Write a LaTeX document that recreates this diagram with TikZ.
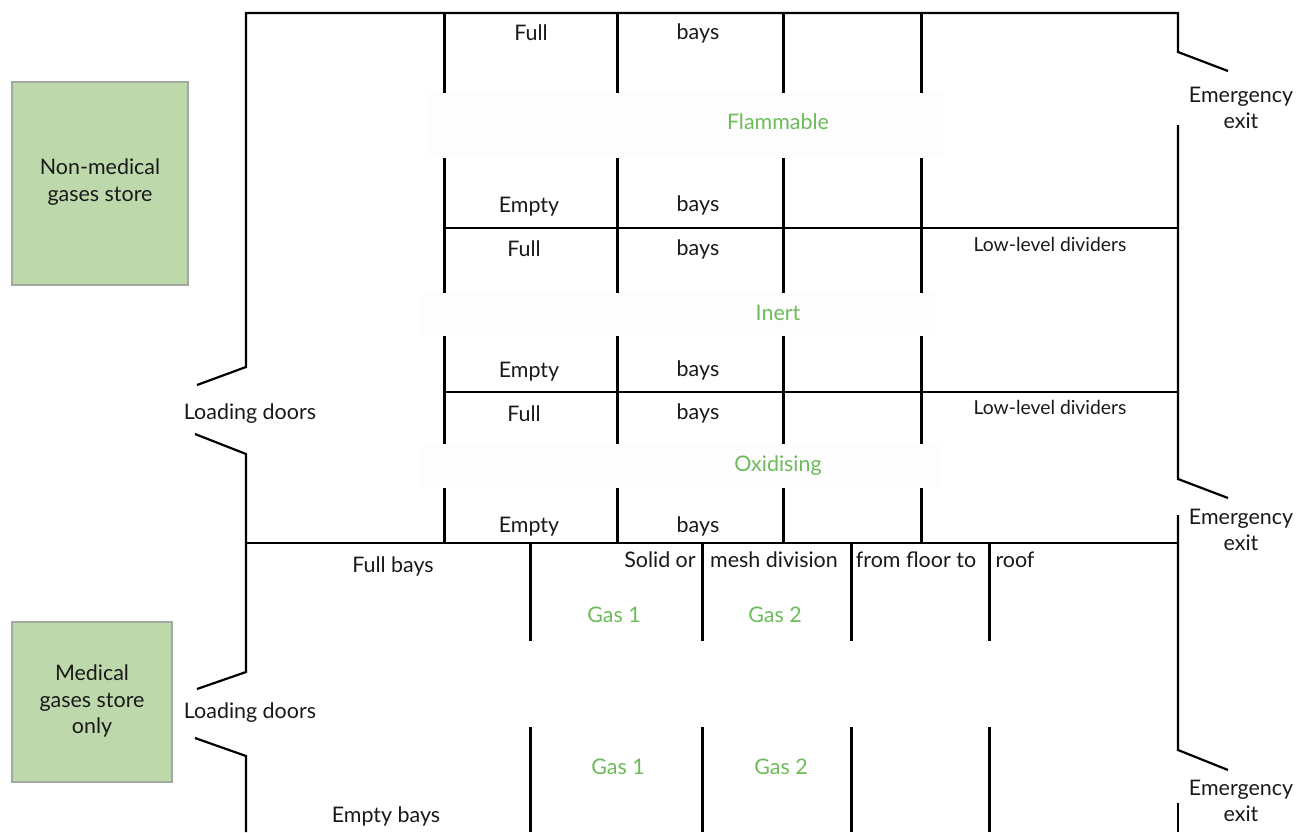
\documentclass[tikz,border=0pt]{standalone}
\usepackage{fontspec}
\setmainfont{Lato}
\definecolor{storegreen}{HTML}{BDD9AB}
\definecolor{storeedge}{HTML}{A3A8A0}
\definecolor{gaslabel}{HTML}{6DBB5A}
\definecolor{bandgrey}{HTML}{FDFDFD}
\tikzset{
    wall/.style={line width=1.25pt, black},
    divider/.style={line width=1.7pt, black},
    lowline/.style={line width=1.1pt, black},
    store/.style={draw=storeedge, line width=1.2pt, fill=storegreen},
    label/.style={font=\fontsize{12.2}{15}\selectfont, align=center, text=black!90},
    small/.style={font=\fontsize{11}{13}\selectfont, align=center, text=black!90},
    gas/.style={font=\fontsize{12.2}{15}\selectfont, text=gaslabel}
}
\begin{document}
\begin{tikzpicture}[x=0.02cm, y=-0.02cm]
    \useasboundingbox (0,0) rectangle (1308,832);
    % stores
    \draw[store] (12,82) rectangle (188,285);
    \draw[store] (12,622) rectangle (172,782);
    \node[label] (nonmedical) at (100,182) {Non-medical\\gases store};
    \node[label] (medical) at (92,701) {Medical\\gases store\\only};
    % outer walls
    \draw[wall] (1228,71) -- (1178,52) -- (1178,13) -- (246,13) -- (246,367) -- (197,385);
    \draw[wall] (195,434) -- (246,454) -- (246,672) -- (197,689);
    \draw[wall] (195,738) -- (246,756) -- (246,832);
    \draw[wall] (1178,125) -- (1178,479) -- (1228,498);
    \draw[wall] (1178,515) -- (1178,750) -- (1228,770);
    \draw[wall] (1178,803) -- (1178,832);
    \draw[wall] (246,543) -- (1178,543);
    \draw[lowline] (444,228) -- (1178,228);
    \draw[lowline] (444,392) -- (1178,392);
    % upper bay dividers
    \foreach \x in {444.3,617,783,921} {
        \draw[divider] (\x,13) -- (\x,93);
        \draw[divider] (\x,158) -- (\x,293);
        \draw[divider] (\x,336) -- (\x,444);
        \draw[divider] (\x,488) -- (\x,543);
    }
    % lower bay dividers
    \foreach \x in {530.7,702.7,851.7,989.7} {
        \draw[divider] (\x,543) -- (\x,641);
        \draw[divider] (\x,727) -- (\x,832);
    }
    % hazard bands
    \fill[bandgrey] (427,93) rectangle (944,157);
    \fill[bandgrey] (420,293) rectangle (936,336);
    \fill[bandgrey] (422,444) rectangle (940,488);
    \node[gas] (flammable) at (778,122) {Flammable};
    \node[gas] (inert) at (778,313) {Inert};
    \node[gas] (oxidising) at (778,466) {Oxidising};
    % bay labels
    \node[label] (fulla) at (531,33) {Full};
    \node[label] (baysa) at (698,33) {bays};
    \node[label] (emptya) at (529,207) {Empty};
    \node[label] (baysb) at (698,205) {bays};
    \node[label] (fullb) at (524,249) {Full};
    \node[label] (baysc) at (698,249) {bays};
    \node[label] (emptyb) at (529,372) {Empty};
    \node[label] (baysd) at (698,370) {bays};
    \node[label] (fullc) at (524,414) {Full};
    \node[label] (bayse) at (698,413) {bays};
    \node[label] (emptyc) at (529,527) {Empty};
    \node[label] (baysf) at (698,526) {bays};
    \node[small] (dividersa) at (1050,244) {Low-level dividers};
    \node[small] (dividersb) at (1050,407) {Low-level dividers};
    % lower store labels
    \node[label] (fullbays) at (393,566) {Full bays};
    \node[label] (emptybays) at (386,816) {Empty bays};
    \node[label] (solid) at (660,560) {Solid or};
    \node[label] (mesh) at (774,560) {mesh division};
    \node[label] (floor) at (916,560) {from floor to};
    \node[label] (roof) at (1015,560) {roof};
    \node[gas] (gasa) at (614,615) {Gas 1};
    \node[gas] (gasb) at (775,615) {Gas 2};
    \node[gas] (gasc) at (618,767) {Gas 1};
    \node[gas] (gasd) at (781,767) {Gas 2};
    % doors and exits
    \node[label] (loadinga) at (250,414) {Loading doors};
    \node[label] (loadingb) at (250,713) {Loading doors};
    \node[label] (exita) at (1241,108) {Emergency\\exit};
    \node[label] (exitb) at (1241,530) {Emergency\\exit};
    \node[label] (exitc) at (1241,801) {Emergency\\exit};
\end{tikzpicture}
\end{document}
